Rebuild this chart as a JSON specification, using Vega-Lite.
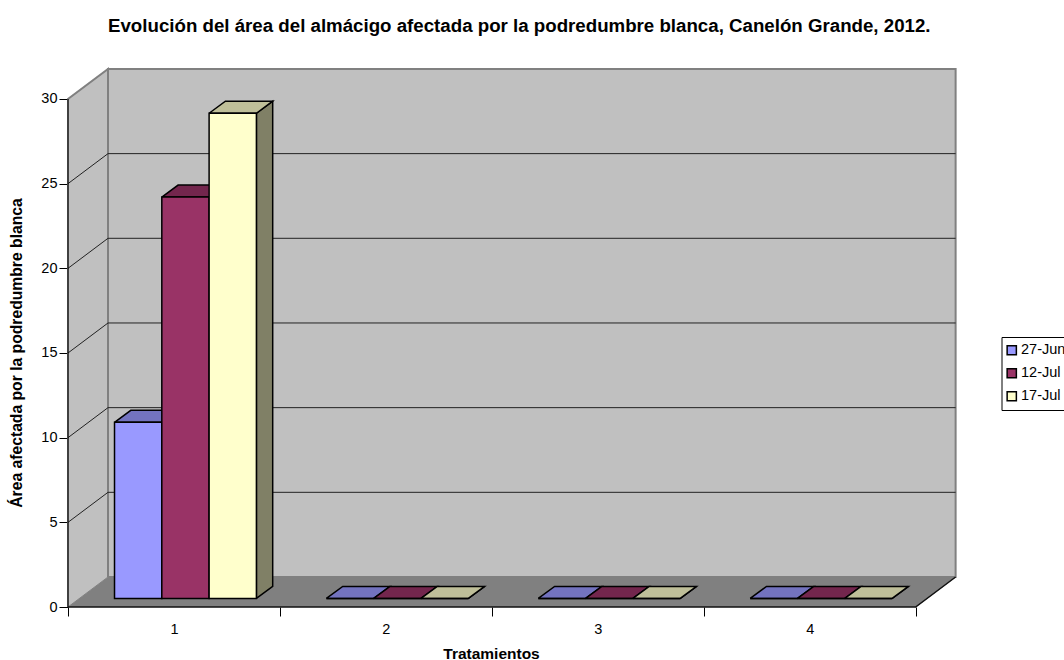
{
  "$schema": "https://vega.github.io/schema/vega-lite/v6.json",
  "autosize": {"type": "none"},
  "padding": {"left": 68, "top": 69, "right": 108, "bottom": 53},
  "width": 888,
  "height": 538,
  "background": "white",
  "title": {
    "text": "Evolución del área del almácigo afectada por la podredumbre blanca, Canelón Grande, 2012.",
    "font": "Liberation Sans", "fontSize": 18.7, "fontWeight": "bold", "color": "black",
    "anchor": "start", "frame": "group", "dx": 40, "offset": 29
  },
  "params": [
    {"name": "profX", "value": 0.1888},
    {"name": "profY", "value": 1.772},
    {"name": "barW", "value": 0.2232},
    {"name": "offX", "value": 0.0543},
    {"name": "offY", "value": 0.508},
    {"name": "barX", "value": 0.0769},
    {"name": "barY", "value": 0.709}
  ],
  "datasets": {
    "barras": [
      {"tratamiento": 1, "fecha": "27-Jun", "valor": 10.4},
      {"tratamiento": 1, "fecha": "12-Jul", "valor": 23.7},
      {"tratamiento": 1, "fecha": "17-Jul", "valor": 28.65},
      {"tratamiento": 2, "fecha": "27-Jun", "valor": 0},
      {"tratamiento": 2, "fecha": "12-Jul", "valor": 0},
      {"tratamiento": 2, "fecha": "17-Jul", "valor": 0},
      {"tratamiento": 3, "fecha": "27-Jun", "valor": 0},
      {"tratamiento": 3, "fecha": "12-Jul", "valor": 0},
      {"tratamiento": 3, "fecha": "17-Jul", "valor": 0},
      {"tratamiento": 4, "fecha": "27-Jun", "valor": 0},
      {"tratamiento": 4, "fecha": "12-Jul", "valor": 0},
      {"tratamiento": 4, "fecha": "17-Jul", "valor": 0}
    ],
    "caras": [
      {"cara": "fondo", "orden": 0, "t": 0.5, "v": 0, "prof": 1},
      {"cara": "fondo", "orden": 1, "t": 0.5, "v": 30, "prof": 1},
      {"cara": "fondo", "orden": 2, "t": 4.5, "v": 30, "prof": 1},
      {"cara": "fondo", "orden": 3, "t": 4.5, "v": 0, "prof": 1},
      {"cara": "fondo", "orden": 4, "t": 0.5, "v": 0, "prof": 1},
      {"cara": "lateral", "orden": 0, "t": 0.5, "v": 0, "prof": 0},
      {"cara": "lateral", "orden": 1, "t": 0.5, "v": 30, "prof": 0},
      {"cara": "lateral", "orden": 2, "t": 0.5, "v": 30, "prof": 1},
      {"cara": "lateral", "orden": 3, "t": 0.5, "v": 0, "prof": 1},
      {"cara": "suelo", "orden": 0, "t": 0.5, "v": 0, "prof": 0},
      {"cara": "suelo", "orden": 1, "t": 0.5, "v": 0, "prof": 1},
      {"cara": "suelo", "orden": 2, "t": 4.5, "v": 0, "prof": 1},
      {"cara": "suelo", "orden": 3, "t": 4.5, "v": 0, "prof": 0}
    ],
    "rejilla": [
      {"v": 5, "orden": 0, "t": 0.5, "prof": 0}, {"v": 5, "orden": 1, "t": 0.5, "prof": 1}, {"v": 5, "orden": 2, "t": 4.5, "prof": 1},
      {"v": 10, "orden": 0, "t": 0.5, "prof": 0}, {"v": 10, "orden": 1, "t": 0.5, "prof": 1}, {"v": 10, "orden": 2, "t": 4.5, "prof": 1},
      {"v": 15, "orden": 0, "t": 0.5, "prof": 0}, {"v": 15, "orden": 1, "t": 0.5, "prof": 1}, {"v": 15, "orden": 2, "t": 4.5, "prof": 1},
      {"v": 20, "orden": 0, "t": 0.5, "prof": 0}, {"v": 20, "orden": 1, "t": 0.5, "prof": 1}, {"v": 20, "orden": 2, "t": 4.5, "prof": 1},
      {"v": 25, "orden": 0, "t": 0.5, "prof": 0}, {"v": 25, "orden": 1, "t": 0.5, "prof": 1}, {"v": 25, "orden": 2, "t": 4.5, "prof": 1}
    ],
    "ejes": [
      {"eje": "valores", "orden": 0, "t": 0.5, "v": 0, "prof": 0},
      {"eje": "valores", "orden": 1, "t": 0.5, "v": 30, "prof": 0},
      {"eje": "categorias", "orden": 0, "t": 0.5, "v": 0, "prof": 0},
      {"eje": "categorias", "orden": 1, "t": 4.5, "v": 0, "prof": 0},
      {"eje": "categorias", "orden": 2, "t": 4.5, "v": 0, "prof": 1}
    ]
  },
  "encoding": {
    "x": {
      "field": "x", "type": "quantitative",
      "scale": {"domain": [0.5, 4.6906], "nice": false, "zero": false},
      "axis": {
        "title": "Tratamientos", "titleFont": "Liberation Sans", "titleFontSize": 15.5, "titleFontWeight": "bold", "titleColor": "black",
        "titleX": 423, "titleY": 46, "titleAlign": "center", "titleBaseline": "middle",
        "values": [0.5, 1, 1.5, 2, 2.5, 3, 3.5, 4, 4.5],
        "labelExpr": "datum.value % 1 == 0 ? format(datum.value, 'd') : ''",
        "labelFont": "Liberation Sans", "labelFontSize": 14.5, "labelColor": "black", "labelPadding": 6, "labelOverlap": false, "labelFlush": false, "labelBound": false,
        "tickSize": 9, "tickWidth": 1,
        "tickColor": {"condition": {"test": "datum.value % 1 == 0", "value": "transparent"}, "value": "black"},
        "grid": false, "domain": false
      }
    },
    "y": {
      "field": "y", "type": "quantitative",
      "scale": {"domain": [0, 31.77], "nice": false, "zero": false},
      "axis": {
        "title": "Área afectada por la podredumbre blanca", "titleFont": "Liberation Sans", "titleFontSize": 15.7, "titleFontWeight": "bold", "titleColor": "black",
        "titleX": -44, "titleY": 283.5, "titleAlign": "center",
        "values": [0, 5, 10, 15, 20, 25, 30], "format": "d",
        "labelFont": "Liberation Sans", "labelFontSize": 14.5, "labelColor": "black", "labelPadding": 2,
        "tickSize": 9, "tickWidth": 1, "tickColor": "black",
        "grid": false, "domain": false
      }
    }
  },
  "layer": [
    {
      "data": {"name": "caras"},
      "transform": [
        {"filter": "datum.cara != 'suelo'"},
        {"calculate": "datum.t + profX * datum.prof", "as": "x"},
        {"calculate": "datum.v + profY * datum.prof", "as": "y"}
      ],
      "mark": {"type": "line", "fill": "#c0c0c0", "stroke": "#808080", "strokeWidth": 2},
      "encoding": {"detail": {"field": "cara"}, "order": {"field": "orden", "type": "quantitative"}}
    },
    {
      "data": {"name": "caras"},
      "transform": [
        {"filter": "datum.cara == 'suelo'"},
        {"calculate": "datum.t + profX * datum.prof", "as": "x"},
        {"calculate": "datum.v + profY * datum.prof", "as": "y"}
      ],
      "mark": {"type": "line", "fill": "#808080", "stroke": "#808080", "strokeWidth": 1},
      "encoding": {"order": {"field": "orden", "type": "quantitative"}}
    },
    {
      "data": {"name": "rejilla"},
      "transform": [
        {"calculate": "datum.t + profX * datum.prof", "as": "x"},
        {"calculate": "datum.v + profY * datum.prof", "as": "y"}
      ],
      "mark": {"type": "line", "stroke": "#222222", "strokeWidth": 1},
      "encoding": {"detail": {"field": "v"}, "order": {"field": "orden", "type": "quantitative"}}
    },
    {
      "data": {"name": "ejes"},
      "transform": [
        {"filter": "datum.eje == 'valores'"},
        {"calculate": "datum.t + profX * datum.prof", "as": "x"},
        {"calculate": "datum.v + profY * datum.prof", "as": "y"}
      ],
      "mark": {"type": "line", "stroke": "black", "strokeWidth": 1},
      "encoding": {"order": {"field": "orden", "type": "quantitative"}}
    },
    {
      "data": {"name": "ejes"},
      "transform": [
        {"filter": "datum.eje == 'categorias'"},
        {"calculate": "datum.t + profX * datum.prof", "as": "x"},
        {"calculate": "datum.v + profY * datum.prof", "as": "y"}
      ],
      "mark": {"type": "line", "stroke": "#111111", "strokeWidth": 1.5},
      "encoding": {"order": {"field": "orden", "type": "quantitative"}}
    },
    {
      "data": {"name": "barras"},
      "transform": [
        {"calculate": "indexof(['27-Jun', '12-Jul', '17-Jul'], datum.fecha)", "as": "serie"},
        {"calculate": "datum.tratamiento - 1.5 * barW + datum.serie * barW + offX", "as": "x0"},
        {"calculate": "offY + datum.valor", "as": "cima"},
        {"calculate": "[0, 1, 2, 3, 4]", "as": "esq"},
        {"flatten": ["esq"]},
        {"calculate": "datum.x0 + barW + [0, 0, barX, barX, 0][datum.esq]", "as": "x"},
        {"calculate": "[offY, datum.cima, datum.cima + barY, offY + barY, offY][datum.esq]", "as": "y"}
      ],
      "mark": {"type": "line", "stroke": "black", "strokeWidth": 1.5, "strokeJoin": "miter"},
      "encoding": {
        "fill": {"field": "fecha", "type": "nominal", "legend": null,
          "scale": {"domain": ["27-Jun", "12-Jul", "17-Jul"], "range": ["#4d4d80", "#4d1a33", "#808066"]}},
        "detail": {"field": "tratamiento"},
        "order": {"field": "esq", "type": "quantitative"}
      }
    },
    {
      "data": {"name": "barras"},
      "transform": [
        {"calculate": "indexof(['27-Jun', '12-Jul', '17-Jul'], datum.fecha)", "as": "serie"},
        {"calculate": "datum.tratamiento - 1.5 * barW + datum.serie * barW + offX", "as": "x0"},
        {"calculate": "offY + datum.valor", "as": "cima"},
        {"calculate": "[0, 1, 2, 3, 4]", "as": "esq"},
        {"flatten": ["esq"]},
        {"calculate": "datum.x0 + [0, barW, barW + barX, barX, 0][datum.esq]", "as": "x"},
        {"calculate": "datum.cima + [0, 0, barY, barY, 0][datum.esq]", "as": "y"}
      ],
      "mark": {"type": "line", "stroke": "black", "strokeWidth": 1.5, "strokeJoin": "miter"},
      "encoding": {
        "fill": {"field": "fecha", "type": "nominal", "legend": null,
          "scale": {"domain": ["27-Jun", "12-Jul", "17-Jul"], "range": ["#7373bf", "#73264d", "#bfbf99"]}},
        "detail": {"field": "tratamiento"},
        "order": {"field": "esq", "type": "quantitative"}
      }
    },
    {
      "data": {"name": "barras"},
      "transform": [
        {"calculate": "indexof(['27-Jun', '12-Jul', '17-Jul'], datum.fecha)", "as": "serie"},
        {"calculate": "datum.tratamiento - 1.5 * barW + datum.serie * barW + offX", "as": "x"},
        {"calculate": "datum.x + barW", "as": "xFin"},
        {"calculate": "offY + datum.valor", "as": "y"},
        {"calculate": "offY", "as": "base"}
      ],
      "mark": {"type": "rect", "stroke": "black", "strokeWidth": 1.5},
      "encoding": {
        "x2": {"field": "xFin"},
        "y2": {"field": "base"},
        "fill": {"field": "fecha", "type": "nominal",
          "scale": {"domain": ["27-Jun", "12-Jul", "17-Jul"], "range": ["#9999ff", "#993366", "#ffffcc"]},
          "legend": {
            "title": null, "orient": "none", "legendX": 933.5, "legendY": 268,
            "fillColor": "white", "strokeColor": "black", "padding": 6,
            "symbolType": "square", "symbolSize": 85, "symbolStrokeColor": "black", "symbolStrokeWidth": 1.5, "symbolOffset": -3,
            "labelFont": "Liberation Sans", "labelFontSize": 14.5, "labelColor": "black", "labelOffset": 2, "rowPadding": 7
          }
        }
      }
    }
  ],
  "resolve": {"scale": {"fill": "independent"}},
  "config": {"view": {"stroke": null}}
}
